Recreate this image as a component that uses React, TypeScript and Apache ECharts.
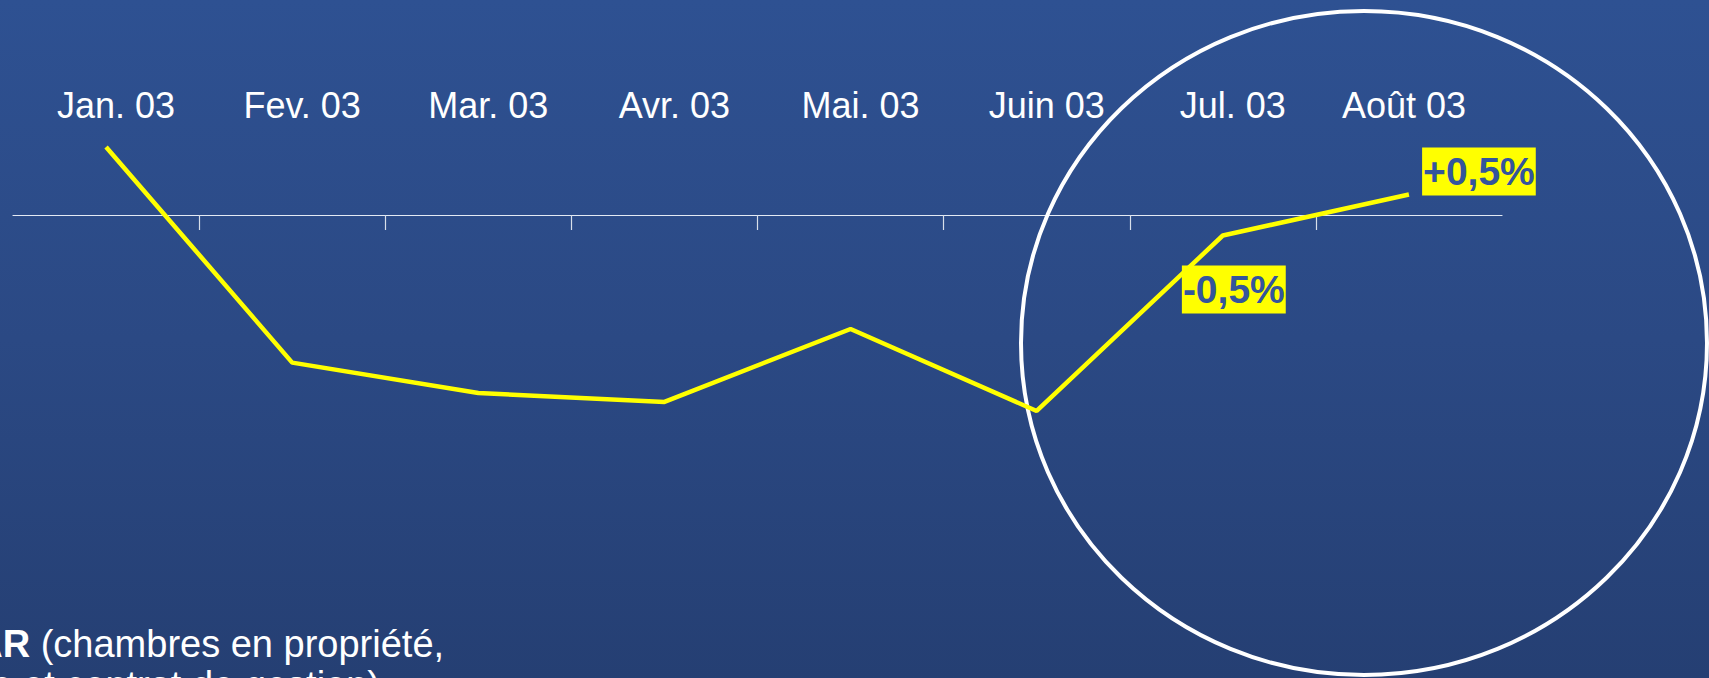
import React, { useEffect, useRef } from "react";
import * as echarts from "echarts";

// ---- data ----
const months = ["Jan. 03", "Fev. 03", "Mar. 03", "Avr. 03", "Mai. 03", "Juin 03", "Jul. 03", "Août 03"];
const revparChange = [1.66, -3.6, -4.34, -4.56, -2.78, -4.78, -0.5, 0.5];
const pointLabels = ["", "", "", "", "", "", "-0,5%", "+0,5%"];
const footnoteBold = "RevPAR";
const footnoteLine1 = " (chambres en propriété,";
const footnoteLine2 = "location-gérance et contrat de gestion)";

const FONT = "'Liberation Sans', Arial, Helvetica, sans-serif";

export default function App() {
  const ref = useRef<HTMLDivElement>(null);

  useEffect(() => {
    document.body.style.margin = "0";
    const chart = echarts.init(ref.current!, undefined, { renderer: "svg" });

    const yMin = -6;
    const yMax = 2;
    const gridTop = 133;
    const gridHeight = 328;
    const zeroOffset = (yMax / (yMax - yMin)) * gridHeight;

    const labelOffsets: Record<number, number[]> = { 6: [11, 54], 7: [70, -23] };
    const seriesData = revparChange.map((v, i) => {
      const txt = pointLabels[i];
      if (!txt) return { value: v };
      return {
        value: v,
        label: {
          show: true,
          position: "inside",
          offset: labelOffsets[i],
          formatter: () => txt,
          backgroundColor: "#ffff00",
          color: "#34559c",
          fontFamily: FONT,
          fontWeight: "bold",
          fontSize: 39,
          lineHeight: 40,
          padding: [4, 1, 4, 1],
        },
      };
    });

    const monthItems = months.map((m, i) =>
      i === months.length - 1
        ? { value: m, textStyle: { padding: [0, 10, 0, 0] } }
        : { value: m }
    );

    const boundaries = [...months.map((_, i) => String(i)), String(months.length)];

    chart.setOption({
      animation: false,
      grid: {
        left: 13,
        right: 207,
        top: gridTop,
        height: gridHeight,
        containLabel: false,
        outerBoundsMode: "none",
      },
      xAxis: [
        {
          type: "category",
          data: monthItems,
          position: "top",
          boundaryGap: true,
          axisLine: { show: true, onZero: true, lineStyle: { color: "#e4eaf4", width: 1.2 } },
          axisTick: { show: false },
          axisLabel: {
            show: true,
            interval: 0,
            color: "#ffffff",
            fontFamily: FONT,
            fontSize: 36,
            margin: 10,
            padding: [0, 0, 0, 20],
          },
          splitLine: { show: false },
        },
        {
          type: "category",
          data: boundaries,
          position: "top",
          offset: -zeroOffset,
          boundaryGap: false,
          axisLine: { show: false, onZero: false },
          axisTick: {
            show: true,
            inside: true,
            length: 15,
            interval: (i: number) => i > 0 && i < months.length,
            lineStyle: { color: "#d8dfea", width: 1.2 },
          },
          axisLabel: { show: false },
          splitLine: { show: false },
        },
      ],
      yAxis: {
        type: "value",
        min: yMin,
        max: yMax,
        show: false,
        splitLine: { show: false },
      },
      series: [
        {
          type: "line",
          xAxisIndex: 0,
          data: seriesData,
          symbol: "circle",
          symbolSize: 1,
          showSymbol: true,
          itemStyle: { color: "transparent" },
          lineStyle: { color: "#ffff00", width: 4.5 },
          label: { show: false },
          z: 3,
        },
      ],
      graphic: [
        {
          type: "ellipse",
          shape: { cx: 1364, cy: 343, rx: 343, ry: 332 },
          style: { fill: "none", stroke: "#ffffff", lineWidth: 4 },
          z: 1,
        },
        {
          type: "text",
          x: -117,
          y: 625,
          style: {
            text: "{b|" + footnoteBold + "}{n|" + footnoteLine1 + "}",
            verticalAlign: "top",
            rich: {
              b: { fill: "#ffffff", fontWeight: "bold", fontSize: 38, fontFamily: FONT },
              n: { fill: "#ffffff", fontSize: 38, fontFamily: FONT },
            },
          },
        },
        {
          type: "text",
          x: 380,
          y: 666,
          style: {
            text: footnoteLine2,
            fill: "#ffffff",
            fontSize: 38,
            fontFamily: FONT,
            align: "right",
            verticalAlign: "top",
          },
        },
      ],
    });

    return () => chart.dispose();
  }, []);

  return (
    <div
      ref={ref}
      style={{
        position: "absolute",
        left: 0,
        top: 0,
        width: 1709,
        height: 678,
        background: "linear-gradient(180deg, #2e5192 0%, #2b4984 50%, #253f73 100%)",
      }}
    />
  );
}
